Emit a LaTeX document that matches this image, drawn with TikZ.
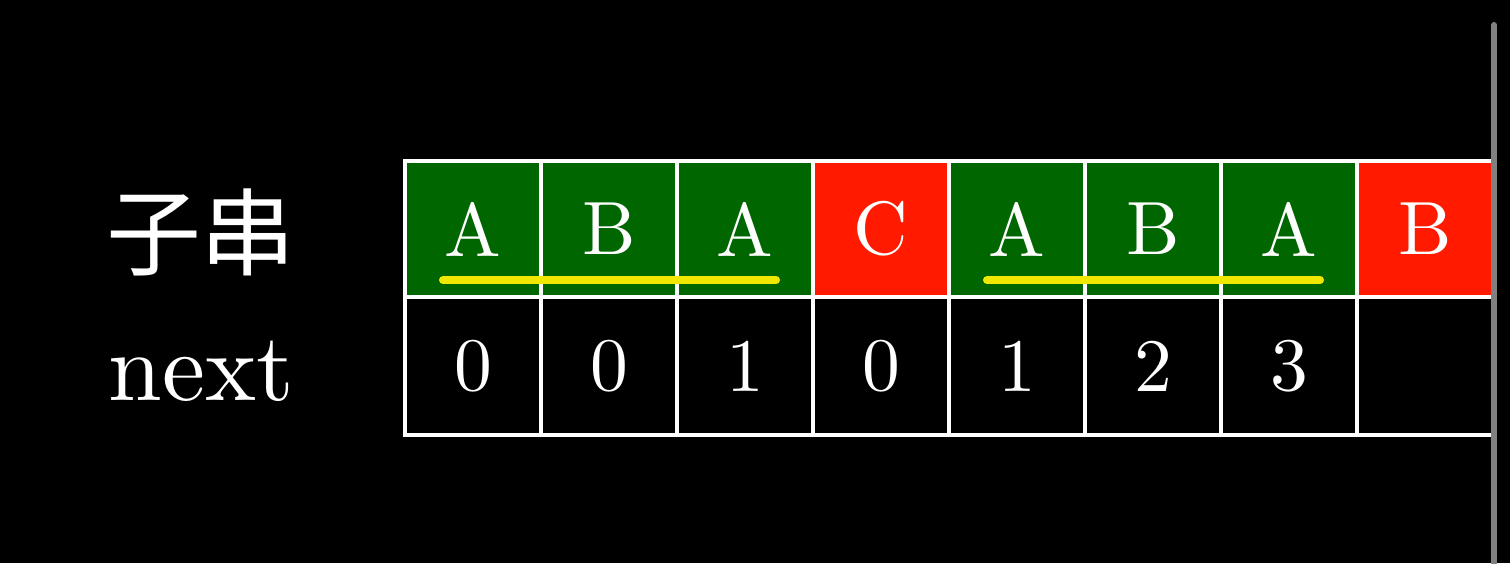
\documentclass[tikz,border=0pt]{standalone}
\usepackage{fontspec}
\setmainfont{lmroman10-regular.otf}
\newfontfamily\cjk{Noto Sans CJK SC}
\usepackage{tikz}
\usetikzlibrary{positioning}

\definecolor{matchgreen}{RGB}{0,102,0}
\definecolor{failred}{RGB}{255,26,0}
\definecolor{hlyellow}{RGB}{240,232,0}

\begin{document}
\begin{tikzpicture}[
  cell/.style={draw=white,line width=1.2pt,minimum width=1.36cm,minimum height=1.36cm,inner sep=0pt,text=white,font=\fontsize{21.5}{25}\selectfont},
  ok/.style={cell,fill=matchgreen},
  bad/.style={cell,fill=failred},
  num/.style={cell,fill=black,minimum height=1.38cm},
  rowlabel/.style={text=white,inner sep=0pt},
  hl/.style={draw=hlyellow,line width=0.08cm,line cap=round}]
\fill[black] (0,0) rectangle (15.10,5.63);
\useasboundingbox (0,0) rectangle (15.10,5.63);
\node[rowlabel,font=\cjk\fontsize{27}{30}\selectfont] (lsub) at (2.01,3.31) {子串};
\node[rowlabel,font=\fontsize{27.5}{31}\selectfont] (lnext) at (2.01,1.92) {next};
\begin{scope}
\clip (3.9,0) rectangle (14.91,5.63);
% pattern row
\node[ok] (s1) at (4.73,3.34) {A};
\node[ok] (s2) at (6.09,3.34) {B};
\node[ok] (s3) at (7.45,3.34) {A};
\node[bad] (s4) at (8.81,3.34) {C};
\node[ok] (s5) at (10.17,3.34) {A};
\node[ok] (s6) at (11.53,3.34) {B};
\node[ok] (s7) at (12.89,3.34) {A};
\node[bad] (s8) at (14.25,3.34) {B};
% next row
\node[num] (n1) at (4.73,1.97) {0};
\node[num] (n2) at (6.09,1.97) {0};
\node[num] (n3) at (7.45,1.97) {1};
\node[num] (n4) at (8.81,1.97) {0};
\node[num] (n5) at (10.17,1.97) {1};
\node[num] (n6) at (11.53,1.97) {2};
\node[num] (n7) at (12.89,1.97) {3};
\node[num] (n8) at (14.25,1.97) {};
\end{scope}
% matching prefix and suffix
\draw[hl] ([shift={(-0.30,0.19)}]s1.south)--([shift={(0.31,0.19)}]s3.south);
\draw[hl] ([shift={(-0.30,0.19)}]s5.south)--([shift={(0.31,0.19)}]s7.south);
\coordinate (bartop) at (14.94,5.38);
\coordinate (barbot) at (14.94,0);
\draw[gray,line width=0.06cm,line cap=round] (bartop)--(barbot);
\end{tikzpicture}
\end{document}
